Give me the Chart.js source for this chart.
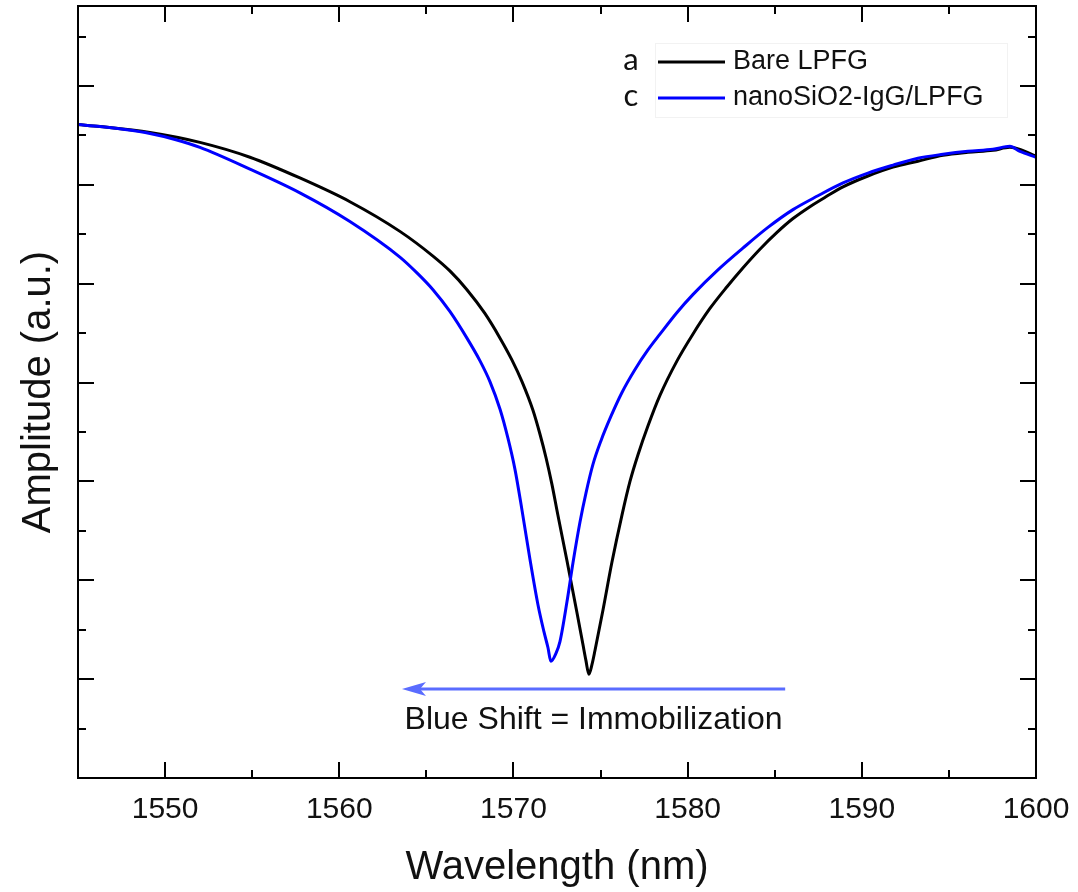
<!DOCTYPE html>
<html>
<head>
<meta charset="utf-8">
<title>LPFG spectra</title>
<script src="https://cdn.jsdelivr.net/npm/chart.js@4.4.1/dist/chart.umd.min.js"></script>
<style>
  html, body { margin: 0; padding: 0; background: #fff; }
  #wrap { width: 1078px; height: 892px; }
</style>
</head>
<body>
<div id="wrap"><canvas id="specChart" width="1078" height="892"></canvas></div>
<script>
  'use strict';

  // bare grating (a)
  var bareWl  = [1545.0, 1546.26, 1549.13, 1552.0, 1554.87, 1557.74, 1560.61, 1563.48, 1565.38, 1566.35,
                 1567.33, 1568.36, 1569.23, 1569.91, 1570.49, 1571.12, 1571.52, 1571.87, 1572.21, 1572.55,
                 1573.07, 1573.65, 1573.99, 1574.16, 1574.33, 1574.51, 1574.68, 1575.14, 1575.65, 1576.23,
                 1576.69, 1577.15, 1577.72, 1578.41, 1579.39, 1580.30, 1581.28, 1582.26, 1583.17, 1584.15,
                 1585.13, 1586.05, 1587.02, 1587.94, 1588.92, 1590.35, 1591.79, 1593.22, 1594.66, 1596.09,
                 1597.53, 1598.5, 1599.08, 1600.0];
  var bareAmp = [6.61, 6.59, 6.53, 6.43, 6.28, 6.07, 5.83, 5.53, 5.28, 5.13,
                 4.94, 4.70, 4.45, 4.23, 4.01, 3.72, 3.48, 3.24, 2.97, 2.66,
                 2.20, 1.67, 1.35, 1.19, 1.05, 1.15, 1.29, 1.70, 2.18, 2.66,
                 3.00, 3.27, 3.56, 3.87, 4.22, 4.49, 4.75, 4.97, 5.16, 5.35,
                 5.52, 5.66, 5.78, 5.88, 5.98, 6.09, 6.18, 6.24, 6.30, 6.33,
                 6.35, 6.38, 6.36, 6.29];

  // nanoSiO2-IgG coated grating (c)
  var coatWl  = [1545.0, 1546.26, 1547.70, 1549.13, 1550.57, 1552.0, 1554.87, 1557.74, 1560.61, 1563.48,
                 1564.46, 1565.38, 1566.35, 1567.33, 1568.08, 1568.65, 1569.23, 1569.68, 1570.09, 1570.49,
                 1570.95, 1571.41, 1571.75, 1571.98, 1572.15, 1572.44, 1572.67, 1573.07, 1573.42, 1573.82,
                 1574.16, 1574.56, 1575.02, 1575.60, 1576.23, 1576.97, 1577.72, 1578.41, 1579.39, 1580.30,
                 1581.74, 1583.17, 1584.61, 1586.05, 1587.48, 1588.92, 1590.35, 1591.79, 1593.22, 1594.66,
                 1596.09, 1597.53, 1598.5, 1599.08, 1600.0];
  var coatAmp = [6.61, 6.59, 6.56, 6.52, 6.46, 6.38, 6.16, 5.92, 5.63, 5.27,
                 5.11, 4.94, 4.72, 4.45, 4.22, 4.01, 3.73, 3.44, 3.12, 2.71,
                 2.21, 1.75, 1.48, 1.32, 1.18, 1.26, 1.38, 1.78, 2.18, 2.59,
                 2.88, 3.17, 3.41, 3.66, 3.90, 4.13, 4.33, 4.49, 4.71, 4.89,
                 5.14, 5.36, 5.57, 5.75, 5.89, 6.02, 6.12, 6.20, 6.27, 6.31,
                 6.34, 6.36, 6.39, 6.34, 6.28];

  var seriesNames = ['Bare LPFG', 'nanoSiO2-IgG/LPFG'];
  var seriesTags  = ['a', 'c'];
  var xLabelTicks = [1550, 1560, 1570, 1580, 1590, 1600];

  // blue shift arrow (wavelength from -> to, amplitude level)
  var shiftFrom = 1585.6, shiftTo = 1563.6, shiftLevel = 0.90;
  var shiftText = 'Blue Shift = Immobilization';

  var FONT = "'Liberation Sans', Arial, Helvetica, sans-serif";
  Chart.defaults.font.family = FONT;
  Chart.defaults.color = '#000';

  function pairs(xs, ys) {
    return xs.map(function (x, i) { return { x: x, y: ys[i] }; });
  }

  // box round the plot with inward ticks on all four sides
  var frameTicks = {
    id: 'frameTicks',
    afterDatasetsDraw: function (chart) {
      var ctx = chart.ctx, a = chart.chartArea;
      var xs = chart.scales.x, ys = chart.scales.y;
      ctx.save();
      ctx.strokeStyle = '#000';
      ctx.lineWidth = 2;
      ctx.strokeRect(a.left, a.top, a.right - a.left, a.bottom - a.top);
      ctx.beginPath();
      xs.ticks.forEach(function (t) {
        var p = Math.round(xs.getPixelForValue(t.value));
        var len = t.value % 10 === 0 ? 16 : 8;
        ctx.moveTo(p, a.bottom); ctx.lineTo(p, a.bottom - len);
        ctx.moveTo(p, a.top); ctx.lineTo(p, a.top + len);
      });
      ys.ticks.forEach(function (t) {
        var p = Math.round(ys.getPixelForValue(t.value));
        var len = Math.abs(t.value - Math.round(t.value)) < 1e-6 ? 16 : 8;
        ctx.moveTo(a.left, p); ctx.lineTo(a.left + len, p);
        ctx.moveTo(a.right, p); ctx.lineTo(a.right - len, p);
      });
      ctx.stroke();
      ctx.restore();
    }
  };

  var shiftArrow = {
    id: 'shiftArrow',
    afterDraw: function (chart) {
      var ctx = chart.ctx;
      var xs = chart.scales.x, ys = chart.scales.y;
      var x0 = xs.getPixelForValue(shiftFrom), x1 = xs.getPixelForValue(shiftTo);
      var y = ys.getPixelForValue(shiftLevel);
      ctx.save();
      ctx.strokeStyle = '#5a6cff';
      ctx.fillStyle = '#5a6cff';
      ctx.lineWidth = 3;
      ctx.beginPath();
      ctx.moveTo(x0, y); ctx.lineTo(x1 + 14, y);
      ctx.stroke();
      ctx.beginPath();
      ctx.moveTo(x1, y);
      ctx.lineTo(x1 + 24, y - 7);
      ctx.lineTo(x1 + 18, y);
      ctx.lineTo(x1 + 24, y + 7);
      ctx.closePath();
      ctx.fill();
      ctx.fillStyle = '#111';
      ctx.font = '32px ' + FONT;
      ctx.textAlign = 'center';
      ctx.textBaseline = 'alphabetic';
      ctx.fillText(shiftText, (x0 + x1) / 2, y + 40);
      ctx.restore();
    }
  };

  var sideLegend = {
    id: 'sideLegend',
    afterDraw: function (chart) {
      var ctx = chart.ctx;
      ctx.save();
      ctx.strokeStyle = 'rgba(0,0,0,0.05)';
      ctx.lineWidth = 1;
      ctx.strokeRect(655.5, 43.5, 352, 74);
      chart.data.datasets.forEach(function (ds, i) {
        var y = 62 + i * 36;
        ctx.strokeStyle = ds.borderColor;
        ctx.lineWidth = 3;
        ctx.beginPath();
        ctx.moveTo(658, y); ctx.lineTo(725, y);
        ctx.stroke();
        ctx.fillStyle = '#111';
        ctx.textBaseline = 'middle';
        ctx.textAlign = 'left';
        ctx.font = '27px ' + FONT;
        ctx.fillText(ds.label, 733, y);
        ctx.textAlign = 'center';
        ctx.font = '31px Lato, "Open Sans", sans-serif';
        ctx.fillText(seriesTags[i], 631, y - 2);
      });
      ctx.restore();
    }
  };

  var ctx = document.getElementById('specChart').getContext('2d');
  var chart = new Chart(ctx, {
    type: 'line',
    data: {
      datasets: [{
        label: seriesNames[0],
        data: pairs(bareWl, bareAmp),
        borderColor: '#000000',
        borderWidth: 3,
        pointRadius: 0,
        cubicInterpolationMode: 'monotone',
        order: 2
      }, {
        label: seriesNames[1],
        data: pairs(coatWl, coatAmp),
        borderColor: '#0000ff',
        borderWidth: 3,
        pointRadius: 0,
        cubicInterpolationMode: 'monotone',
        order: 1
      }]
    },
    plugins: [frameTicks, shiftArrow, sideLegend],
    options: {
      responsive: false,
      animation: false,
      layout: { padding: { top: 6, right: 42, left: 0, bottom: 0 } },
      plugins: {
        legend: { display: false },
        tooltip: { enabled: false }
      },
      scales: {
        x: {
          type: 'linear',
          min: 1545,
          max: 1600,
          grid: { display: false, drawTicks: false },
          border: { display: false },
          ticks: {
            stepSize: 5,
            padding: 14,
            maxRotation: 0,
            autoSkip: false,
            font: { size: 30 },
            color: '#111',
            callback: function (v) {
              return xLabelTicks.indexOf(v) >= 0 ? String(v) : '';
            }
          },
          title: {
            display: true,
            text: 'Wavelength (nm)',
            font: { size: 40 },
            color: '#111',
            padding: { top: 0, bottom: 0 }
          },
          afterFit: function (s) {
            s.height = 114;
            s.paddingLeft = 0;
            s.paddingRight = 0;
          }
        },
        y: {
          type: 'linear',
          min: 0,
          max: 7.81,
          grid: { display: false, drawTicks: false },
          border: { display: false },
          ticks: { display: false, stepSize: 0.5, includeBounds: false },
          title: {
            display: true,
            text: 'Amplitude (a.u.)',
            font: { size: 40 },
            color: '#111',
            padding: { top: 15, bottom: 0 }
          },
          afterFit: function (s) { s.width = 78; }
        }
      }
    }
  });
</script>
</body>
</html>
